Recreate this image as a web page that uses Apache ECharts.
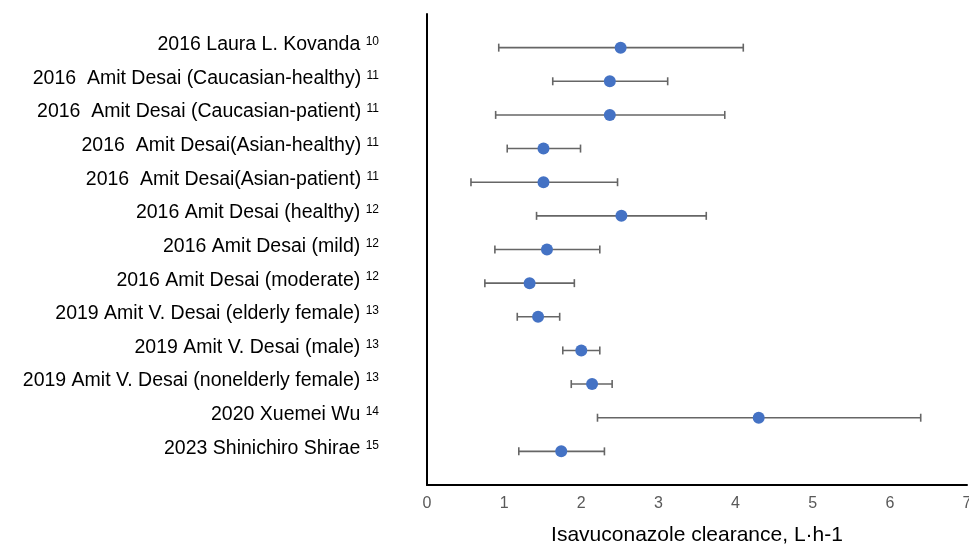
<!DOCTYPE html>
<html>
<head>
<meta charset="utf-8">
<script src="https://cdn.jsdelivr.net/npm/echarts@6/dist/echarts.min.js"></script>
<style>html,body{margin:0;padding:0;background:#fff}#c{width:969px;height:544px}</style>
</head>
<body>
<div id="c"></div>
<script>
var studies = [
  '2016 Laura L. Kovanda',
  '2016  Amit Desai (Caucasian-healthy)',
  '2016  Amit Desai (Caucasian-patient)',
  '2016  Amit Desai(Asian-healthy)',
  '2016  Amit Desai(Asian-patient)',
  '2016 Amit Desai (healthy)',
  '2016 Amit Desai (mild)',
  '2016 Amit Desai (moderate)',
  '2019 Amit V. Desai (elderly female)',
  '2019 Amit V. Desai (male)',
  '2019 Amit V. Desai (nonelderly female)',
  '2020 Xuemei Wu',
  '2023 Shinichiro Shirae'
];
var refs = ['10','11','11','11','11','12','12','12','13','13','13','14','15'];
var clearance = [2.51, 2.37, 2.37, 1.51, 1.51, 2.52, 1.555, 1.33, 1.44, 2.00, 2.14, 4.30, 1.74];
var lower = [0.93, 1.63, 0.89, 1.04, 0.57, 1.42, 0.88, 0.75, 1.17, 1.76, 1.87, 2.21, 1.19];
var upper = [4.10, 3.12, 3.86, 1.99, 2.47, 3.62, 2.24, 1.91, 1.72, 2.24, 2.40, 6.40, 2.30];
var xTicks = [0, 1, 2, 3, 4, 5, 6, 7];

var pointData = clearance.map(function (v, i) { return [v, i + 1]; });
var errData = lower.map(function (l, i) { return [l, upper[i], i + 1]; });

var chart = echarts.init(document.getElementById('c'));
chart.setOption({
  animation: false,
  grid: { left: 427, right: 2, top: 14, bottom: 59, containLabel: false, outerBoundsMode: 'none' },
  xAxis: {
    type: 'value', min: 0, max: 7, interval: 1,
    axisLine: { show: true, onZero: false, lineStyle: { color: '#000', width: 2 } },
    axisTick: { show: false },
    splitLine: { show: false },
    axisLabel: {
      color: '#595959', fontSize: 16, margin: 11, fontFamily: 'Liberation Sans',
      formatter: function (v) { return xTicks.indexOf(v) >= 0 ? String(v) : ''; }
    },
    name: 'Isavuconazole clearance, L·h-1',
    nameLocation: 'middle', nameGap: 40,
    nameTextStyle: { color: '#000', fontSize: 21, fontFamily: 'Liberation Sans' }
  },
  yAxis: {
    type: 'value', min: 0, max: 14, interval: 1, inverse: true,
    axisLine: { show: true, onZero: false, lineStyle: { color: '#000', width: 2 } },
    axisTick: { show: false },
    splitLine: { show: false },
    axisLabel: {
      margin: 48,
      formatter: function (v) {
        var i = Math.round(v) - 1;
        if (i < 0 || i >= studies.length) return '';
        return '{a|' + studies[i] + ' }{s|' + refs[i] + '}';
      },
      rich: {
        a: { fontSize: 19.5, color: '#000', fontFamily: 'Liberation Sans', lineHeight: 24, padding: [0, 0, 6, 0] },
        s: { fontSize: 12, color: '#000', fontFamily: 'Liberation Sans', verticalAlign: 'top', lineHeight: 16 }
      }
    }
  },
  series: [
    {
      type: 'custom',
      data: errData,
      z: 2,
      renderItem: function (params, api) {
        var y = api.value(2);
        var p1 = api.coord([api.value(0), y]);
        var p2 = api.coord([api.value(1), y]);
        var h = 4;
        var st = { stroke: '#666666', lineWidth: 1.6 };
        return {
          type: 'group',
          children: [
            { type: 'line', shape: { x1: p1[0], y1: p1[1], x2: p2[0], y2: p2[1] }, style: st },
            { type: 'line', shape: { x1: p1[0], y1: p1[1] - h, x2: p1[0], y2: p1[1] + h }, style: st },
            { type: 'line', shape: { x1: p2[0], y1: p2[1] - h, x2: p2[0], y2: p2[1] + h }, style: st }
          ]
        };
      }
    },
    {
      type: 'scatter',
      data: pointData,
      z: 3,
      symbol: 'circle',
      symbolSize: 12,
      itemStyle: { color: '#4472C4', opacity: 1 }
    }
  ]
});
</script>
</body>
</html>
